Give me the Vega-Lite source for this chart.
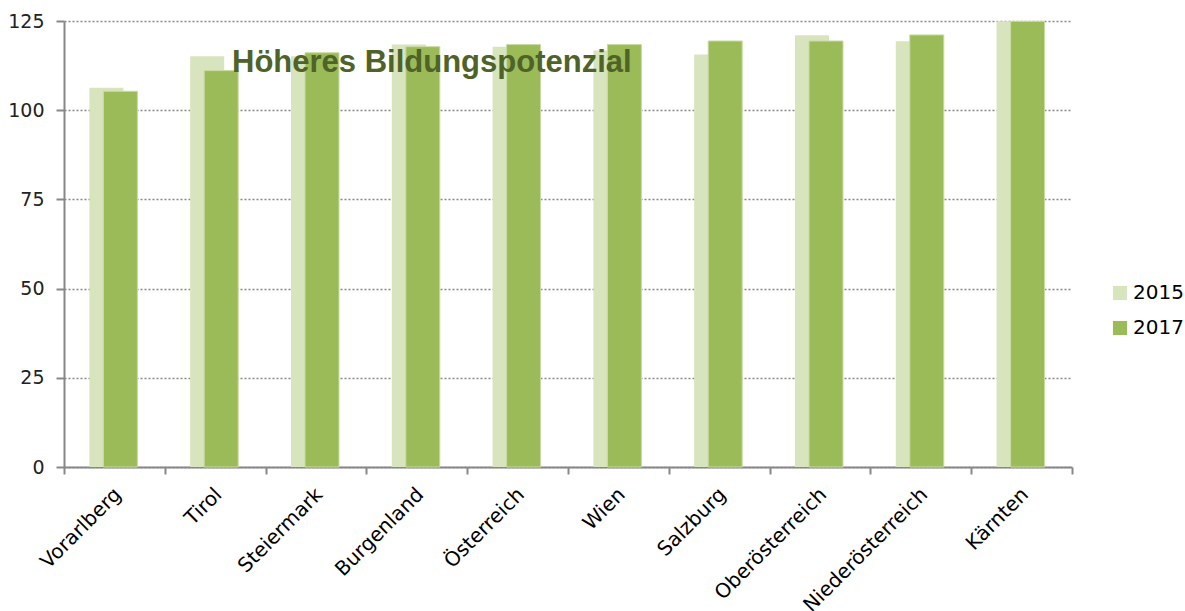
{
  "$schema": "https://vega.github.io/schema/vega-lite/v6.json",
  "width": 1008,
  "height": 446,
  "autosize": {"type": "none"},
  "padding": {"left": 64, "top": 21, "right": 113, "bottom": 144},
  "background": "white",
  "config": {
    "view": {"stroke": null},
    "font": "DejaVu Sans"
  },
  "data": {
    "values": [
      {"region": "Vorarlberg", "year": "2015", "value": 106.3},
      {"region": "Vorarlberg", "year": "2017", "value": 105.3},
      {"region": "Tirol", "year": "2015", "value": 115.1},
      {"region": "Tirol", "year": "2017", "value": 111.1},
      {"region": "Steiermark", "year": "2015", "value": 115.1},
      {"region": "Steiermark", "year": "2017", "value": 116.1},
      {"region": "Burgenland", "year": "2015", "value": 118.4},
      {"region": "Burgenland", "year": "2017", "value": 117.8},
      {"region": "Österreich", "year": "2015", "value": 117.8},
      {"region": "Österreich", "year": "2017", "value": 118.4},
      {"region": "Wien", "year": "2015", "value": 116.7},
      {"region": "Wien", "year": "2017", "value": 118.4},
      {"region": "Salzburg", "year": "2015", "value": 115.6},
      {"region": "Salzburg", "year": "2017", "value": 119.4},
      {"region": "Oberösterreich", "year": "2015", "value": 121.0},
      {"region": "Oberösterreich", "year": "2017", "value": 119.4},
      {"region": "Niederösterreich", "year": "2015", "value": 119.3},
      {"region": "Niederösterreich", "year": "2017", "value": 121.1},
      {"region": "Kärnten", "year": "2015", "value": 124.9},
      {"region": "Kärnten", "year": "2017", "value": 124.9}
    ]
  },
  "encoding": {
    "x": {
      "field": "region",
      "type": "nominal",
      "sort": null,
      "scale": {"paddingInner": 0, "paddingOuter": 0},
      "axis": {
        "title": null,
        "labelAngle": -45,
        "labelAlign": "right",
        "labelBaseline": "top",
        "labelFontSize": 20,
        "labelColor": "#000000",
        "labelPadding": 10,
        "labelOffset": -4,
        "tickBand": "extent",
        "tickSize": 7,
        "tickColor": "#888888",
        "tickWidth": 2,
        "domainColor": "#888888",
        "domainWidth": 2,
        "grid": false
      }
    },
    "y": {
      "field": "value",
      "type": "quantitative",
      "scale": {"domain": [0, 125], "nice": false},
      "axis": {
        "title": null,
        "values": [0, 25, 50, 75, 100, 125],
        "labelFontSize": 19,
        "labelColor": "#222222",
        "labelPadding": 12,
        "tickSize": 8,
        "tickColor": "#888888",
        "tickWidth": 2,
        "domainColor": "#888888",
        "domainWidth": 2,
        "grid": true,
        "gridColor": "#888888",
        "gridWidth": 1.5,
        "gridDash": [2, 2]
      }
    },
    "color": {
      "field": "year",
      "type": "nominal",
      "scale": {"domain": ["2015", "2017"], "range": ["#d7e4bd", "#9bbb59"]},
      "legend": {
        "title": null,
        "orient": "none",
        "legendX": 1046,
        "legendY": 262,
        "symbolType": "square",
        "symbolSize": 200,
        "symbolStrokeWidth": 0,
        "labelFontSize": 20,
        "labelColor": "#000000",
        "rowPadding": 15,
        "labelOffset": 3
      }
    }
  },
  "layer": [
    {
      "transform": [{"filter": "datum.year == '2015'"}],
      "mark": {"type": "bar", "size": 34, "xOffset": -8}
    },
    {
      "transform": [{"filter": "datum.year == '2017'"}],
      "mark": {"type": "bar", "size": 34, "xOffset": 6, "stroke": "#c9dba3", "strokeWidth": 1}
    },
    {
      "transform": [{"filter": "datum.region == 'Burgenland' && datum.year == '2015'"}],
      "mark": {"type": "text", "text": "Höheres Bildungspotenzial", "font": "Liberation Sans", "fontWeight": "bold", "fontSize": 31, "fill": "#4f6228", "align": "center", "baseline": "alphabetic", "dx": 15},
      "encoding": {
        "y": {"datum": 110.7},
        "color": {"value": "#4f6228"}
      }
    }
  ]
}
